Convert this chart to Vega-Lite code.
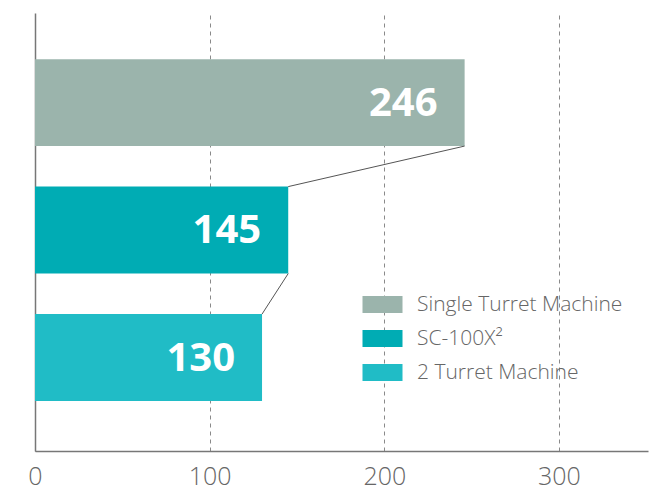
{
  "$schema": "https://vega.github.io/schema/vega-lite/v6.json",
  "autosize": "none",
  "width": 613,
  "height": 438,
  "padding": {"left": 35, "top": 13, "right": 4, "bottom": 44},
  "background": "white",
  "config": {
    "view": {"stroke": null},
    "font": "Open Sans"
  },
  "datasets": {
    "bars": [
      {"machine": "Single Turret Machine", "value": 246},
      {"machine": "SC-100X²", "value": 145},
      {"machine": "2 Turret Machine", "value": 130}
    ],
    "links": [
      {"from": "Single Turret Machine", "to": "SC-100X²", "x_from": 246, "x_to": 145},
      {"from": "SC-100X²", "to": "2 Turret Machine", "x_from": 145, "x_to": 130}
    ]
  },
  "resolve": {"scale": {"y": "shared"}},
  "layer": [
    {
      "data": {"name": "bars"},
      "mark": {"type": "bar", "cornerRadius": 0},
      "encoding": {
        "y": {
          "field": "machine",
          "type": "nominal",
          "sort": null,
          "scale": {
            "domain": ["Single Turret Machine", "SC-100X²", "2 Turret Machine"],
            "paddingInner": 0.318,
            "paddingOuter": 0.377,
            "align": 0.48
          },
          "axis": {
            "title": null,
            "labels": false,
            "ticks": false,
            "domainColor": "#777777",
            "domainWidth": 1.5
          }
        },
        "x": {
          "field": "value",
          "type": "quantitative",
          "scale": {"domain": [0, 351], "nice": false},
          "axis": {
            "title": null,
            "values": [0, 100, 200, 300],
            "ticks": false,
            "labelFlush": false,
            "domainColor": "#777777",
            "domainWidth": 1.5,
            "labelColor": "#666666",
            "labelFont": "Open Sans",
            "labelFontWeight": 300,
            "labelFontSize": 25,
            "labelPadding": 13,
            "grid": true,
            "gridColor": "#8a8a8a",
            "gridDash": [4, 4],
            "gridWidth": 1
          }
        },
        "color": {
          "field": "machine",
          "type": "nominal",
          "scale": {
            "domain": ["Single Turret Machine", "SC-100X²", "2 Turret Machine"],
            "range": ["#9bb4ac", "#00acb4", "#20bcc6"]
          },
          "legend": {
            "title": null,
            "orient": "none",
            "legendX": 337,
            "legendY": 281,
            "padding": 0,
            "symbolType": "M-2,-0.85H2V0.85H-2Z",
            "symbolSize": 400,
            "symbolStrokeWidth": 0,
            "symbolOpacity": 1,
            "labelFont": "Open Sans",
            "labelFontWeight": 300,
            "labelFontSize": 21,
            "labelColor": "#666666",
            "labelLimit": 400,
            "labelOffset": 24,
            "rowPadding": 12
          }
        }
      }
    },
    {
      "data": {"name": "bars"},
      "mark": {
        "type": "text",
        "align": "right",
        "baseline": "middle",
        "dx": -27,
        "dy": 1,
        "font": "Open Sans",
        "fontWeight": "bold",
        "fontSize": 40,
        "color": "white"
      },
      "encoding": {
        "y": {"field": "machine", "type": "nominal", "sort": null},
        "x": {"field": "value", "type": "quantitative"},
        "text": {"field": "value", "type": "quantitative"}
      }
    },
    {
      "data": {"name": "links"},
      "mark": {"type": "rule", "color": "#555555", "strokeWidth": 1},
      "encoding": {
        "y": {
          "field": "from",
          "type": "nominal",
          "sort": null,
          "bandPosition": 1
        },
        "y2": {"field": "to", "bandPosition": 0},
        "x": {"field": "x_from", "type": "quantitative"},
        "x2": {"field": "x_to"}
      }
    }
  ]
}
